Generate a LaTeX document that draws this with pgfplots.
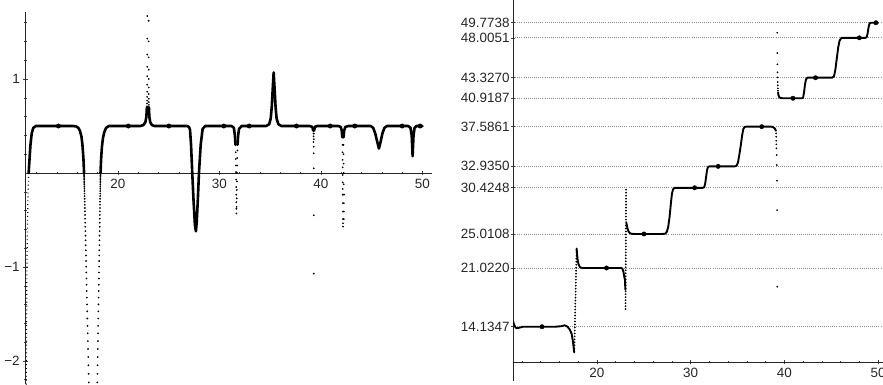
\documentclass[border=0pt]{standalone}
\usepackage{pgfplots}
\pgfplotsset{compat=1.18}
\usepackage{fontspec}
\setmainfont{Liberation Sans}
\begin{document}
\begin{tikzpicture}
\pgfplotsset{
  myax/.style={
    scale only axis,
    anchor=south west,
    axis line style={black!85, line width=0.7bp},
    tick style={black!75, line width=0.6bp},
    tick align=inside,
    major tick length=4.5bp,
    minor tick length=2.5bp,
    tick label style={font=\fontsize{13.5}{15}\selectfont, text=black!85},
  },
  noarrows/.style={
    every inner x axis line/.append style={-},
    every outer x axis line/.append style={-},
    every inner y axis line/.append style={-},
    every outer y axis line/.append style={-},
    x axis line style={-}, y axis line style={-},
  },
  curveL/.style={black, line width=2.6bp, line join=round, line cap=round, no marks},
  curveR/.style={black, line width=1.9bp, line join=round, line cap=round, no marks},
  dots/.style={only marks, mark=*, mark size=0.65bp, black},
  zeros/.style={only marks, mark=*, mark size=2.2bp, black},
}
% ---------------- left panel: real part ----------------
\begin{axis}[myax, name=L, at={(25.5bp,0.5bp)}, width=406.6bp, height=372.2bp,
  xmin=10.89, xmax=50.95, ymin=-2.25, ymax=1.71,
  axis x line=middle, axis y line=left, noarrows,
  xtick={20,30,40,50}, xticklabels={20,30,40,50},
  minor xtick={12,14,16,18,22,24,26,28,32,34,36,38,42,44,46,48},
  ytick={-2,-1,1}, yticklabels={−2,−1,1},
  minor ytick={-2.2,-1.8,-1.6,-1.4,-1.2,-0.8,-0.6,-0.4,-0.2,0.2,0.4,0.6,0.8,1.2,1.4,1.6},
]
\addplot[black, line width=1.2bp, dash pattern=on 0.9bp off 3.0bp] coordinates {(11.2,0) (11.12,-0.3) (11.03,-1.0) (10.96,-2.3)};
\addplot[curveL] coordinates {(11.2,0) (11.3,0.17) (11.38,0.3) (11.5,0.42) (11.65,0.48) (11.9,0.5) (15.6,0.5) (15.9,0.495) (16.1,0.48) (16.25,0.45) (16.4,0.39) (16.5,0.3) (16.6,0.15) (16.66,0.0)};
\addplot[curveL] coordinates {(18.28,0.0) (18.34,0.15) (18.42,0.28) (18.52,0.37) (18.64,0.43) (18.82,0.48) (19.1,0.5) (22.2,0.5) (22.5,0.51) (22.7,0.54) (22.8,0.6) (22.85,0.7)};
\addplot[curveL] coordinates {(23.05,0.7) (23.09,0.6) (23.18,0.54) (23.35,0.51) (23.6,0.5) (26.8,0.5) (27.0,0.49) (27.1,0.46) (27.2,0.3) (27.32,0.0) (27.45,-0.3) (27.58,-0.55) (27.68,-0.62) (27.76,-0.52) (27.87,-0.28) (27.98,0.0) (28.15,0.3) (28.34,0.47) (28.6,0.5) (31.2,0.5) (31.42,0.48) (31.52,0.4) (31.58,0.3)};
\addplot[curveL] coordinates {(31.78,0.3) (31.84,0.4) (31.93,0.47) (32.2,0.5) (34.6,0.5) (34.9,0.52) (35.05,0.58) (35.15,0.7) (35.25,0.9) (35.34,1.07) (35.43,0.9) (35.53,0.7) (35.63,0.58) (35.8,0.52) (36.1,0.5) (38.9,0.5) (39.15,0.49) (39.24,0.45)};
\addplot[curveL] coordinates {(39.32,0.45) (39.4,0.49) (39.6,0.5) (41.7,0.5) (41.95,0.49) (42.05,0.45) (42.1,0.38)};
\addplot[curveL] coordinates {(42.23,0.38) (42.28,0.45) (42.4,0.49) (42.7,0.5) (44.9,0.5) (45.15,0.48) (45.35,0.42) (45.55,0.33) (45.71,0.26) (45.87,0.33) (46.05,0.42) (46.25,0.48) (46.5,0.5) (48.6,0.5) (48.82,0.48) (48.94,0.4) (49.0,0.26) (49.03,0.18) (49.06,0.26) (49.12,0.4) (49.22,0.48) (49.4,0.5) (50.0,0.5)};
% deep dip near 17: falling and rising branches
\addplot[dots] table {
16.66 -0.012
16.665 -0.025
16.668 -0.04
16.672 -0.055
16.675 -0.07
16.678 -0.087
16.682 -0.105
16.686 -0.125
16.691 -0.146
16.695 -0.168
16.70 -0.192
16.706 -0.218
16.711 -0.245
16.718 -0.274
16.724 -0.305
16.731 -0.338
16.738 -0.372
16.746 -0.408
16.754 -0.446
16.762 -0.486
16.771 -0.528
16.78 -0.572
16.79 -0.618
16.80 -0.666
16.81 -0.716
16.821 -0.768
16.833 -0.822
16.844 -0.878
16.857 -0.936
16.869 -0.996
16.882 -1.058
16.896 -1.122
16.909 -1.188
16.924 -1.256
16.938 -1.326
16.954 -1.398
16.969 -1.472
16.985 -1.548
17.001 -1.626
17.018 -1.706
17.035 -1.788
17.053 -1.872
17.071 -1.958
17.09 -2.046
17.109 -2.136
17.128 -2.228
};
\addplot[dots] table {
18.278 -0.012
18.276 -0.025
18.274 -0.04
18.272 -0.055
18.27 -0.07
18.268 -0.087
18.265 -0.105
18.262 -0.125
18.259 -0.146
18.256 -0.168
18.253 -0.192
18.249 -0.218
18.245 -0.245
18.241 -0.274
18.237 -0.305
18.232 -0.338
18.227 -0.372
18.222 -0.408
18.217 -0.446
18.211 -0.486
18.205 -0.528
18.199 -0.572
18.192 -0.618
18.185 -0.666
18.178 -0.716
18.171 -0.768
18.163 -0.822
18.155 -0.878
18.147 -0.936
18.139 -0.996
18.13 -1.058
18.121 -1.122
18.111 -1.188
18.102 -1.256
18.092 -1.326
18.081 -1.398
18.071 -1.472
18.06 -1.548
18.049 -1.626
18.038 -1.706
18.026 -1.788
18.014 -1.872
18.002 -1.958
17.989 -2.046
17.977 -2.136
17.964 -2.228
};
% spike near 23
\addplot[dots] coordinates {(22.86,0.71) (22.87,0.74) (22.87,0.77) (22.87,0.81) (22.88,0.865) (22.88,0.94) (22.88,1.03) (22.89,1.13) (22.89,1.26) (22.89,1.43) (22.89,1.67)
 (23.05,0.70) (23.04,0.725) (23.04,0.755) (23.04,0.79) (23.03,0.84) (23.03,0.91) (23.03,1.00) (23.03,1.10) (23.02,1.23) (23.02,1.40) (23.02,1.62)};
% narrow dip near 31.7
\addplot[dots] coordinates {(31.6,0.22) (31.61,0.15) (31.62,0.08) (31.63,0.01) (31.64,-0.07) (31.65,-0.15) (31.655,-0.23) (31.66,-0.31) (31.665,-0.38) (31.67,-0.43) (31.69,-0.36) (31.7,-0.27) (31.71,-0.18) (31.72,-0.09) (31.73,0.0) (31.74,0.08) (31.755,0.16) (31.77,0.24)};
% narrow dip near 39.3
\addplot[dots] coordinates {(39.26,0.42) (39.27,0.39) (39.27,0.33) (39.28,0.28) (39.28,0.21) (39.29,0.05) (39.29,-0.45) (39.29,-1.07) (39.3,0.42) (39.3,0.36)};
% narrow dip near 42.15
\addplot[dots] coordinates {(42.12,0.3) (42.13,0.22) (42.13,0.14) (42.14,0.06) (42.14,-0.02) (42.145,-0.1) (42.15,-0.17) (42.15,-0.23) (42.155,-0.32) (42.16,-0.41) (42.165,-0.49) (42.17,-0.535) (42.175,-0.57)
 (42.27,-0.23) (42.26,-0.32) (42.255,-0.41) (42.25,-0.49) (42.24,-0.12) (42.235,0.0) (42.23,0.1) (42.225,0.2) (42.22,0.3)};
\addplot[zeros] coordinates {(14.1347,0.5) (21.0220,0.5) (25.0108,0.5) (30.4248,0.5) (32.9350,0.5) (37.5861,0.5) (40.9187,0.5) (43.3270,0.5) (48.0051,0.5) (49.7738,0.5)};
\end{axis}
% ---------------- right panel: imaginary part ----------------
\begin{axis}[myax, name=R, at={(513bp,23bp)}, width=370bp, height=362bp,
  xmin=11.04, xmax=50.53, ymin=10, ymax=52.44,
  axis x line=bottom, axis y line=left, noarrows,
  xtick={20,30,40,50}, xticklabels={20,30,40,50},
  minor xtick={12,14,16,18,22,24,26,28,32,34,36,38,42,44,46,48},
  ytick={14.1347,21.0220,25.0108,30.4248,32.9350,37.5861,40.9187,43.3270,48.0051,49.7738},
  yticklabels={14.1347,21.0220,25.0108,30.4248,32.9350,37.5861,40.9187,43.3270,48.0051,49.7738},
  yticklabel style={inner xsep=1bp},
  ymajorgrids, major grid style={black!45, line width=0.7bp, dash pattern=on 0.8bp off 1.3bp},
]
\addplot[curveR] coordinates {(11.05,14.75) (11.15,14.4) (11.3,14.05) (11.45,13.95) (11.7,14.02) (12.1,14.13) (15.5,14.13) (16.2,14.2) (16.55,14.3) (16.85,14.15) (17.1,13.8) (17.3,13.3) (17.45,12.3) (17.55,11.3) (17.58,11.13)};
\addplot[curveR] coordinates {(17.83,23.3) (17.88,22.6) (17.95,21.9) (18.05,21.4) (18.2,21.1) (18.45,21.02) (22.6,21.02) (22.72,20.95) (22.82,20.6) (22.9,20.1) (22.99,19.6) (23.03,18.5)};
\addplot[curveR] coordinates {(23.12,26.4) (23.16,26.2) (23.25,25.7) (23.35,25.35) (23.5,25.12) (23.7,25.03) (24.0,25.01) (27.0,25.01) (27.3,25.05) (27.45,25.25) (27.6,25.8) (27.75,27.0) (27.9,28.7) (28.0,29.7) (28.12,30.25) (28.3,30.42) (31.3,30.42) (31.45,30.5) (31.55,30.9) (31.65,31.7) (31.75,32.5) (31.85,32.85) (32.0,32.94) (34.7,32.94) (34.9,33.0) (35.05,33.4) (35.2,34.3) (35.35,35.4) (35.5,36.6) (35.62,37.3) (35.75,37.55) (35.95,37.59) (38.6,37.59) (38.85,37.5) (39.0,37.35) (39.1,37.1)};
\addplot[curveR] coordinates {(39.33,41.6) (39.37,41.3) (39.45,41.05) (39.6,40.95) (39.85,40.92) (41.9,40.92) (42.0,41.0) (42.1,41.6) (42.2,42.5) (42.3,43.1) (42.45,43.33) (45.1,43.33) (45.3,43.5) (45.45,44.3) (45.6,45.6) (45.75,46.9) (45.9,47.7) (46.1,48.0) (48.65,48.0) (48.8,48.1) (48.9,48.6) (49.0,49.3) (49.1,49.7) (49.25,49.77) (50.0,49.77)};
% jump near 17.7
\addplot[dots] table {
17.583 11.3
17.59 11.6
17.60 11.95
17.605 12.3
17.61 12.65
17.62 13.0
17.625 13.35
17.63 13.7
17.64 14.05
17.645 14.4
17.65 14.75
17.66 15.1
17.67 15.45
17.675 15.8
17.68 16.15
17.69 16.5
17.695 16.85
17.70 17.2
17.71 17.55
17.72 17.9
17.725 18.25
17.73 18.6
17.74 18.95
17.745 19.3
17.75 19.65
17.76 20.0
17.77 20.35
17.775 20.7
17.78 21.05
17.79 21.4
17.795 21.75
17.80 22.1
17.81 22.45
17.82 22.8
17.825 23.1
};
% column near 23.1
\addplot[dots] table {
23.110 30.2
23.109 29.85
23.107 29.5
23.106 29.15
23.104 28.8
23.103 28.45
23.101 28.1
23.100 27.75
23.098 27.4
23.097 27.05
23.095 26.7
23.092 26.0
23.091 25.65
23.089 25.3
23.088 24.95
23.086 24.6
23.085 24.25
23.083 23.9
23.082 23.55
23.080 23.2
23.079 22.85
23.077 22.5
23.076 22.15
23.074 21.8
23.073 21.45
23.071 21.1
23.070 20.75
23.068 20.4
23.067 20.05
23.065 19.7
23.064 19.35
23.062 19.0
23.061 18.65
23.059 18.3
23.058 17.95
23.056 17.6
23.055 17.25
23.053 16.9
23.052 16.55
23.050 16.2
};
% columns near 39.2
\addplot[dots] coordinates {(39.12,36.8) (39.13,36.41) (39.14,35.94) (39.15,35.52) (39.16,35.05) (39.18,34.26) (39.2,33.09) (39.21,31.25) (39.23,27.8) (39.24,18.82)
 (39.24,48.6) (39.25,46.22) (39.26,44.9) (39.27,43.96) (39.28,43.37) (39.29,42.82) (39.3,42.43) (39.31,42.08) (39.32,41.8)};
\addplot[zeros] coordinates {(14.1347,14.1347) (21.0220,21.0220) (25.0108,25.0108) (30.4248,30.4248) (32.9350,32.9350) (37.5861,37.5861) (40.9187,40.9187) (43.3270,43.3270) (48.0051,48.0051) (49.7738,49.7738)};
\end{axis}
\draw[black!85, line width=0.7bp] (R.south west) -- ++(0,-19bp);
\pgfresetboundingbox
\path[use as bounding box] (0,0) rectangle (883bp,385bp);
\end{tikzpicture}
\end{document}
